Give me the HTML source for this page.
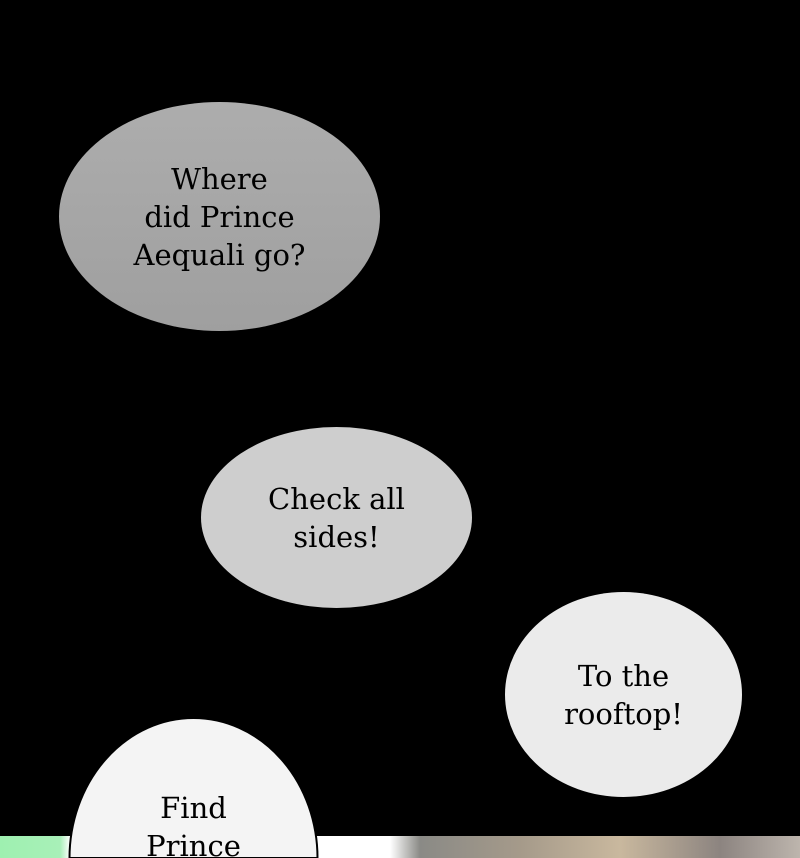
<!DOCTYPE html>
<html><head><style>
html,body{margin:0;padding:0;width:800px;height:858px;overflow:hidden;}
body{background:#000;position:relative;font-family:"DejaVu Serif","Liberation Serif",serif;}
.strip{position:absolute;left:0;top:836px;width:800px;height:22px;background:linear-gradient(90deg,#9ef0b0 0px,#a8f0b8 60px,#ffffff 70px,#ffffff 390px,#8a8a86 420px,#a59a8a 520px,#c9b89e 620px,#8c8480 720px,#bdb5ad 800px);}
.b{position:absolute;border-radius:50%;display:flex;align-items:center;justify-content:center;text-align:center;color:#000;font-size:29px;line-height:38px;box-sizing:border-box;}
svg{position:absolute;left:68px;top:716px;display:block;}
</style></head><body>
<div class="strip"></div>
<div class="b" style="left:59px;top:102px;width:321px;height:229px;background:linear-gradient(#adadad,#9f9f9f);">Where<br>did Prince<br>Aequali go?</div>
<div class="b" style="left:201px;top:427px;width:271px;height:181px;background:#cecece;">Check all<br>sides!</div>
<div class="b" style="left:505px;top:592px;width:237px;height:205px;background:#ebebeb;">To the<br>rooftop!</div>
<svg width="251" height="142" viewBox="0 0 251 142">
<path d="M1.5 142 A124 140 0 0 1 249.5 142 Z" fill="#f4f4f4" stroke="#000" stroke-width="2"/>
<text x="125.5" y="102" text-anchor="middle" font-size="29" font-family="DejaVu Serif, Liberation Serif, serif">Find</text>
<text x="125.5" y="140" text-anchor="middle" font-size="29" font-family="DejaVu Serif, Liberation Serif, serif">Prince</text>
</svg>
</body></html>
